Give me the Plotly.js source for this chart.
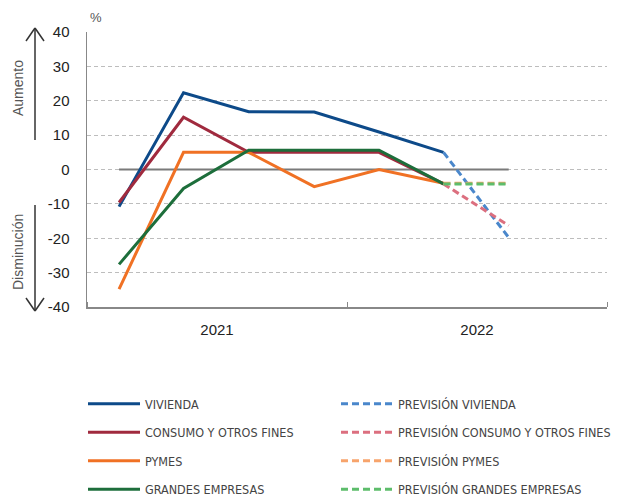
<!DOCTYPE html>
<html>
<head>
<meta charset="utf-8">
<script src="https://cdn.plot.ly/plotly-3.0.1.min.js"></script>
<style>html,body{margin:0;padding:0;background:#fff;}#chart{width:617px;height:497px;}</style>
</head>
<body>
<div id="chart"></div>
<script>
// ---- data ----
const quarters = ['2021-01-01','2021-04-01','2021-07-01','2021-10-01','2022-01-01','2022-04-01'];
const forecastQuarters = ['2022-04-01','2022-07-01'];
const zeroQuarters = ['2021-01-01','2022-07-01'];
const vivienda = [-10.8, 22.3, 16.8, 16.7, 10.9, 5.0];
const consumo  = [-9.6, 15.2, 5.0, 5.0, 5.0, -4.2];
const pymes    = [-34.8, 5.0, 5.0, -5.0, 0.0, -4.0];
const grandes  = [-27.6, -5.5, 5.6, 5.6, 5.6, -4.2];
const prevVivienda = [5.0, -19.8];
const prevConsumo  = [-4.2, -16.3];
const prevPymes    = [-4.0, -4.0];
const prevGrandes  = [-4.2, -4.2];
const yTicks = [-40,-30,-20,-10,0,10,20,30,40];
const yTickText = ['-40','-30','-20','-10','0','10','20','30','40'];
const names = ['VIVIENDA','CONSUMO Y OTROS FINES','PYMES','GRANDES EMPRESAS'];
const prevNames = ['PREVISIÓN VIVIENDA','PREVISIÓN CONSUMO Y OTROS FINES','PREVISIÓN PYMES','PREVISIÓN GRANDES EMPRESAS'];

// ---- styles ----
const solidColors = ['#0d4a89','#a02a3e','#f07124','#1d6e3b'];
const dashColors  = ['#4a87cb','#dc6f7f','#f7a46c','#5dbd6b'];
const L=87, R=607, T=32, B=307;
const xp = p => (p-L)/(R-L);
const yp = p => (B-p)/(B-T);

const actual = [vivienda, consumo, pymes, grandes];
const prev = [prevVivienda, prevConsumo, prevPymes, prevGrandes];
const traces = [];
traces.push({x: zeroQuarters, y: zeroQuarters.map(()=>0), xperiod:'M3', xperiodalignment:'middle',
  mode:'lines', line:{color:'#7a7a7a', width:2}, showlegend:false, hoverinfo:'skip'});
actual.forEach((arr,i)=>traces.push({x:quarters, y:arr, name:names[i], xperiod:'M3', xperiodalignment:'middle',
  mode:'lines', line:{color:solidColors[i], width:3}, legend:'legend', legendgroup:'a'+i}));
prev.forEach((arr,i)=>traces.push({x:forecastQuarters, y:arr, name:prevNames[i], xperiod:'M3', xperiodalignment:'middle',
  mode:'lines', line:{color:dashColors[i], width:3, dash:'7px,4px'}, legend:'legend2', legendgroup:'p'+i}));

const ln = (x0,y0,x1,y1)=>({type:'line', xref:'paper', yref:'paper', x0:xp(x0), y0:yp(y0), x1:xp(x1), y1:yp(y1),
  line:{color:'#333', width:1.5}});
const shapes = [
  ln(35,140,35,28), ln(26,41,35,28), ln(44,41,35,28),
  ln(35,205,35,311), ln(26,298,35,311), ln(44,298,35,311)
];

const legendBase = {orientation:'v', traceorder:'grouped', tracegroupgap:9.3, bgcolor:'rgba(0,0,0,0)',
  font:{family:'"DejaVu Sans Condensed", "Liberation Sans", Arial, sans-serif', size:12.5, color:'#444'},
  xanchor:'left', yanchor:'top', itemwidth:52, borderwidth:0};

const layout = {
  width:617, height:497, margin:{l:L, r:617-R, t:T, b:497-B, autoexpand:false},
  paper_bgcolor:'#fff', plot_bgcolor:'#fff',
  font:{family:'"Liberation Sans", Arial, sans-serif', color:'#222'},
  showlegend:true,
  xaxis:{type:'date', range:['2021-01-01','2023-01-01'], tick0:'2021-01-01', dtick:'M12', tickformat:'%Y',
    ticklabelmode:'period', ticks:'inside', ticklen:5, tickcolor:'#888', tickwidth:1,
    showline:true, linecolor:'#888', linewidth:1.5, showgrid:false, zeroline:false,
    tickfont:{size:15, color:'#222'}, ticklabelstandoff:8, fixedrange:true},
  yaxis:{range:[-40,40], tickmode:'array', tickvals:yTicks, ticktext:yTickText,
    showline:true, linecolor:'#888', linewidth:1.5, showgrid:true, gridcolor:'#bdbdbd', gridwidth:1, griddash:'4px,3px',
    zeroline:false, ticks:'', tickfont:{size:15, color:'#222'}, ticklabelstandoff:13, fixedrange:true},
  legend:Object.assign({}, legendBase, {x:xp(83), y:yp(389)}),
  legend2:Object.assign({}, legendBase, {x:xp(336), y:yp(389)}),
  shapes:shapes,
  annotations:[
    {xref:'paper', yref:'paper', x:xp(18), y:yp(88), text:'Aumento', textangle:-90, showarrow:false,
      font:{size:14, color:'#555'}, xanchor:'center', yanchor:'middle'},
    {xref:'paper', yref:'paper', x:xp(18), y:yp(252), text:'Disminución', textangle:-90, showarrow:false,
      font:{size:14, color:'#555'}, xanchor:'center', yanchor:'middle'},
    {xref:'paper', yref:'paper', x:xp(96), y:yp(17), text:'%', showarrow:false,
      font:{size:13, color:'#555'}, xanchor:'center', yanchor:'middle'}
  ]
};
Plotly.newPlot('chart', traces, layout, {displayModeBar:false, staticPlot:true});
</script>
</body>
</html>
